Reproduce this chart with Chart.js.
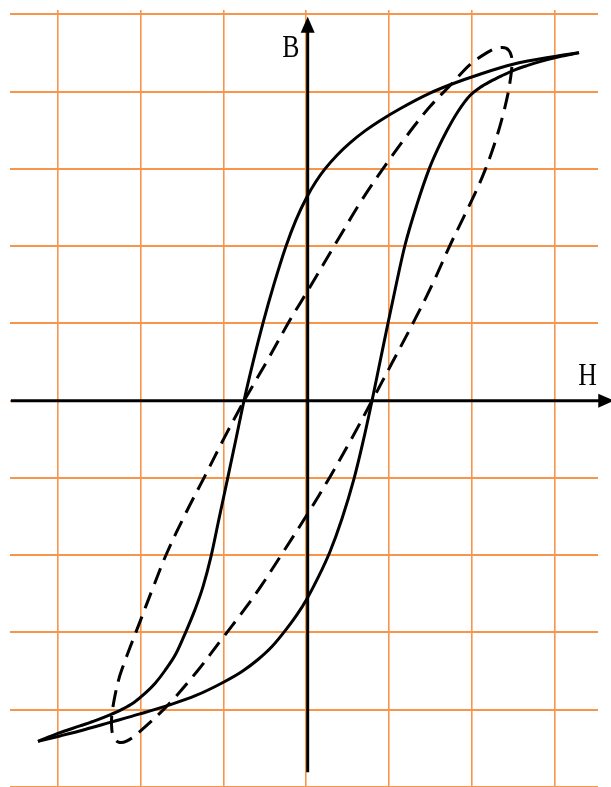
<!DOCTYPE html>
<html>
<head>
<meta charset="utf-8">
<script src="https://cdn.jsdelivr.net/npm/chart.js@4/dist/chart.umd.min.js"></script>
<style>
    html, body { margin: 0; padding: 0; background: #fff; }
    canvas { display: block; }
</style>
</head>
<body>
<canvas id="myChart" width="611" height="787"></canvas>
<script>
/*---------------------------------------------------------------*/
/*----------------------------- data ----------------------------*/
/*---------------------------------------------------------------*/
// grid lines (H and B units)
const gridH = [-3, -2, -1, 0, 1, 2, 3];
const gridB = [-5, -4, -3, -2, -1, 0, 1, 2, 3, 4, 5];

// solid loop, rising branch (lower right), H increasing
const risingH = [-3.239, -2.973, -2.671, -2.370, -2.007, -1.669, -1.331, -1.005, -0.775, -0.582, -0.413, -0.244, -0.111, 0.010, 0.143, 0.287, 0.432, 0.577, 0.686, 0.795, 0.891, 0.988, 1.085, 1.193, 1.338, 1.483, 1.592, 1.700, 1.833, 1.978, 2.099, 2.220, 2.365, 2.498, 2.667, 2.824, 3.065, 3.295];
const risingB = [-4.410, -4.339, -4.255, -4.164, -4.054, -3.944, -3.815, -3.647, -3.505, -3.350, -3.182, -2.963, -2.769, -2.562, -2.291, -1.955, -1.528, -1.012, -0.534, 0, 0.500, 1.004, 1.495, 2.012, 2.541, 2.994, 3.265, 3.497, 3.743, 3.950, 4.053, 4.130, 4.208, 4.273, 4.337, 4.389, 4.454, 4.505];

// solid loop, falling branch (upper left), listed with H increasing
const fallingH = [-3.239, -2.998, -2.732, -2.539, -2.370, -2.225, -2.080, -1.947, -1.826, -1.705, -1.572, -1.452, -1.343, -1.246, -1.150, -1.053, -0.950, -0.848, -0.751, -0.642, -0.522, -0.389, -0.244, -0.123, 0.010, 0.118, 0.227, 0.372, 0.529, 0.710, 0.891, 1.133, 1.495, 1.761, 2.099, 2.498, 2.981, 3.295];
const fallingB = [-4.410, -4.306, -4.209, -4.138, -4.067, -3.996, -3.906, -3.789, -3.660, -3.492, -3.273, -2.988, -2.704, -2.407, -2.019, -1.528, -1.012, -0.495, 0, 0.500, 1.004, 1.508, 1.999, 2.341, 2.640, 2.837, 3.000, 3.178, 3.337, 3.492, 3.624, 3.779, 3.981, 4.099, 4.226, 4.354, 4.452, 4.505];

// dashed loop (closed, starts on the left crossing of the H axis)
const dashedH = [-0.751, -0.473, -0.196, 0.022, 0.372, 0.674, 0.964, 1.254, 1.495, 1.761, 1.978, 2.184, 2.304, 2.413, 2.473, 2.485, 2.467, 2.437, 2.365, 2.268, 2.159, 2.039, 1.906, 1.737, 1.519, 1.290, 1.036, 0.795, 0.553, 0.287, 0.010, -0.268, -0.558, -0.775, -1.005, -1.319, -1.669, -2.007, -2.176, -2.273, -2.333, -2.351, -2.345, -2.309, -2.261, -2.200, -2.128, -2.007, -1.850, -1.681, -1.452, -1.222, -0.993, -0.751];
const dashedB = [0, 0.513, 1.043, 1.430, 2.063, 2.600, 3.058, 3.484, 3.807, 4.105, 4.350, 4.505, 4.563, 4.563, 4.479, 4.350, 4.169, 3.975, 3.652, 3.304, 2.981, 2.683, 2.386, 2.012, 1.495, 1.004, 0.487, 0, -0.482, -0.986, -1.477, -1.942, -2.420, -2.743, -3.066, -3.505, -3.938, -4.280, -4.410, -4.416, -4.332, -4.190, -4.048, -3.815, -3.596, -3.402, -3.195, -2.859, -2.420, -1.968, -1.451, -0.973, -0.488, 0];

/*---------------------------------------------------------------*/
/*----------------------------- chart ---------------------------*/
/*---------------------------------------------------------------*/
const orange = '#F7964A';

function toPoints(hs, bs) {
    return hs.map((h, i) => ({ x: h, y: bs[i] }));
}

// axes with arrow heads and the B / H labels
const axesPlugin = {
    id: 'axes',
    afterDatasetsDraw(chart) {
        const ctx = chart.ctx;
        const sx = chart.scales.x;
        const sy = chart.scales.y;
        const x0 = sx.getPixelForValue(0.018);
        const y0 = sy.getPixelForValue(0);
        const hLeft = sx.getPixelForValue(-3.566);
        const hTip = sx.getPixelForValue(3.72);
        const bBottom = sy.getPixelForValue(-4.81);
        const bTip = sy.getPixelForValue(4.97);
        const len = 16, half = 7;

        ctx.save();
        ctx.strokeStyle = '#000';
        ctx.fillStyle = '#000';
        ctx.lineWidth = 3;

        // H axis
        ctx.beginPath();
        ctx.moveTo(hLeft, y0);
        ctx.lineTo(hTip - len + 2, y0);
        ctx.stroke();
        ctx.beginPath();
        ctx.moveTo(hTip, y0);
        ctx.lineTo(hTip - len, y0 - half);
        ctx.lineTo(hTip - len, y0 + half);
        ctx.closePath();
        ctx.fill();

        // B axis
        ctx.beginPath();
        ctx.moveTo(x0, bBottom);
        ctx.lineTo(x0, bTip + len - 2);
        ctx.stroke();
        ctx.beginPath();
        ctx.moveTo(x0, bTip);
        ctx.lineTo(x0 - half, bTip + len);
        ctx.lineTo(x0 + half, bTip + len);
        ctx.closePath();
        ctx.fill();

        // labels
        ctx.font = '31px "Liberation Serif", "Times New Roman", serif';
        ctx.textBaseline = 'alphabetic';
        ctx.textAlign = 'left';

        ctx.save();
        ctx.translate(x0 - 25.5, bTip + 40);
        ctx.scale(0.83, 1);
        ctx.fillText('B', 0, 0);
        ctx.restore();

        ctx.save();
        ctx.translate(hTip - 36, y0 - 16);
        ctx.scale(0.83, 1);
        ctx.fillText('H', 0, 0);
        ctx.restore();

        ctx.restore();
    }
};

const config = {
    type: 'line',
    data: {
        datasets: [{
            data: toPoints(risingH, risingB),
            borderColor: '#000',
            borderWidth: 3,
            pointRadius: 0,
            cubicInterpolationMode: 'monotone',
            fill: false
        }, {
            data: toPoints(fallingH, fallingB),
            borderColor: '#000',
            borderWidth: 3,
            pointRadius: 0,
            cubicInterpolationMode: 'monotone',
            fill: false
        }, {
            data: toPoints(dashedH, dashedB),
            borderColor: '#000',
            borderWidth: 3,
            borderDash: [17, 9],
            pointRadius: 0,
            tension: 0.35,
            fill: false
        }]
    },
    options: {
        responsive: false,
        animation: false,
        events: [],
        layout: {
            padding: { left: 10, right: 13, top: 10, bottom: 0 }
        },
        plugins: {
            legend: { display: false },
            tooltip: { enabled: false }
        },
        scales: {
            x: {
                type: 'linear',
                min: -3.577,
                max: 3.524,
                afterBuildTicks: (axis) => { axis.ticks = gridH.map(v => ({ value: v })); },
                ticks: { display: false },
                border: { display: false },
                grid: { color: orange, lineWidth: 1.6, drawTicks: false }
            },
            y: {
                type: 'linear',
                min: -5,
                max: 5.057,
                afterBuildTicks: (axis) => { axis.ticks = gridB.map(v => ({ value: v })); },
                ticks: { display: false },
                border: { display: false },
                grid: { color: orange, lineWidth: 2, drawTicks: false }
            }
        }
    },
    plugins: [axesPlugin]
};

const myChart = new Chart(document.getElementById('myChart'), config);
</script>
</body>
</html>
